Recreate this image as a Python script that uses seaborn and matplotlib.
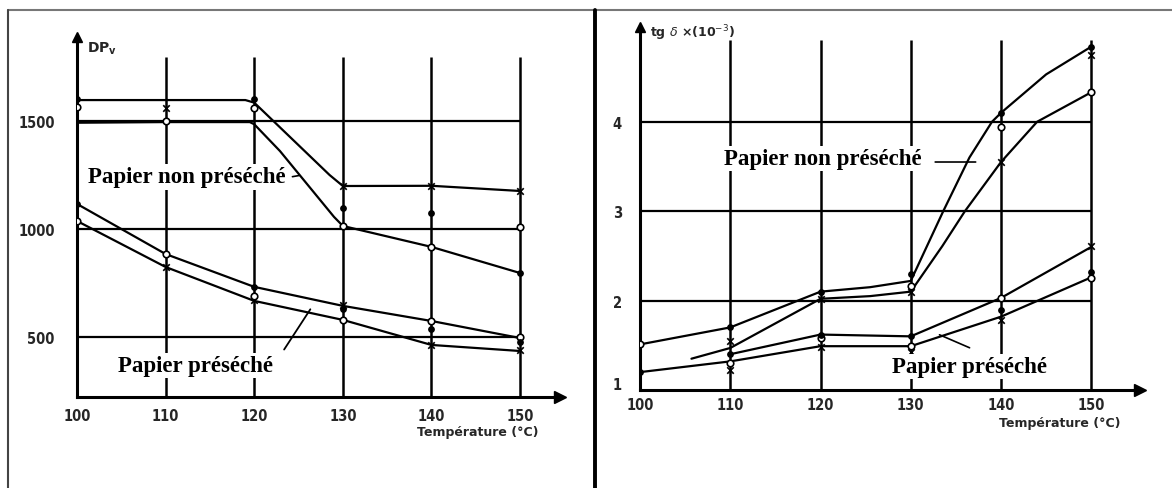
import matplotlib
matplotlib.use("Agg")
import matplotlib.pyplot as plt
from matplotlib.lines import Line2D
import pandas as pd
import seaborn as sns

sns.set_style("white")
plt.rcParams["font.family"] = ["DejaVu Sans"]

# %% data
temps = [100, 110, 120, 130, 140, 150]

# left panel: DPv
dp_yticks = [500, 1000, 1500]
dp_non_a_t = [100, 110, 119, 120, 128.5, 130, 140, 150]
dp_non_a = [1597, 1597, 1597, 1585, 1250, 1199, 1200, 1176]
dp_non_b_t = [100, 110, 119.5, 120, 122.9, 129, 130, 140, 150]
dp_non_b = [1492, 1495, 1495, 1485, 1361, 1056, 1014, 917, 796]
dp_pre_c = [1116, 884, 732, 644, 574, 495]
dp_pre_d = [1037, 824, 667, 579, 463, 435]

dp_x_t = [110, 130, 140, 150, 110, 120, 130, 140, 150]
dp_x_v = [1560, 1199, 1200, 1176, 824, 672, 650, 463, 440]
dp_o_t = [100, 110, 120, 130, 140, 150, 100, 110, 120, 130, 140, 150]
dp_o_v = [1565, 1500, 1560, 1014, 917, 1010, 1037, 884, 690, 579, 574, 500]
dp_f_t = [100, 120, 130, 140, 150, 100, 120, 130, 140, 150]
dp_f_v = [1600, 1600, 1097, 1074, 796, 1116, 732, 630, 537, 477]

# right panel: tg delta x 1e-3
tg_yticks = [1, 2, 3, 4]
tg_non_e_t = [100, 110, 120, 125.5, 130, 131.8, 133.6, 136.5, 139, 140, 145, 150]
tg_non_e = [1.51, 1.70, 2.10, 2.15, 2.22, 2.61, 3.0, 3.6, 4.0, 4.1, 4.53, 4.84]
tg_non_f_t = [105.7, 110, 120, 125.5, 130, 133.5, 136, 140, 144, 150]
tg_non_f = [1.35, 1.47, 2.02, 2.05, 2.10, 2.61, 3.0, 3.55, 4.0, 4.33]
tg_pre_g_t = [110, 120, 130, 140, 150]
tg_pre_g = [1.40, 1.62, 1.60, 2.03, 2.60]
tg_pre_h = [1.20, 1.32, 1.49, 1.49, 1.82, 2.26]

tg_x_t = [110, 120, 130, 140, 150, 110, 120, 130, 140, 150]
tg_x_v = [1.55, 2.02, 2.10, 3.55, 4.75, 1.22, 1.48, 1.42, 1.78, 2.61]
tg_o_t = [100, 130, 140, 150, 110, 120, 130, 140, 150]
tg_o_v = [1.51, 2.16, 3.94, 4.33, 1.30, 1.58, 1.49, 2.03, 2.25]
tg_f_t = [110, 120, 130, 140, 150, 110, 120, 130, 140, 150, 100]
tg_f_v = [1.70, 2.10, 2.30, 4.10, 4.84, 1.40, 1.62, 1.60, 1.89, 2.32, 1.20]

# %% figure
W, H = 1172, 489
fig = plt.figure(figsize=(W / 100, H / 100), dpi=100)
fig.patch.set_facecolor("white")

ax1 = fig.add_axes([77 / W, (H - 398) / H, 483 / W, 360 / H])
ax2 = fig.add_axes([640 / W, (H - 391) / H, 500 / W, 363 / H])

tick_font = dict(family=["DejaVu Sans"], weight="bold", size=10.5, stretch="condensed")
serif = dict(family=["Liberation Serif", "DejaVu Serif"], weight="bold", size=16.5,
             color="black")
LW = 1.6


def draw_axes(ax, xlim, ylim, yticks, grid_top, xpad, ypad):
    ax.set_xlim(*xlim)
    ax.set_ylim(*ylim)
    ax.set_facecolor("none")
    for s in ["top", "right"]:
        ax.spines[s].set_visible(False)
    for s in ["left", "bottom"]:
        ax.spines[s].set_color("black")
        ax.spines[s].set_linewidth(2.2)
    ax.set_xticks(temps)
    ax.set_xticklabels([str(t) for t in temps], fontdict=tick_font)
    ax.set_yticks(yticks)
    ax.set_yticklabels([str(v) for v in yticks], fontdict=tick_font)
    ax.tick_params(axis="x", length=0, pad=xpad)
    ax.tick_params(axis="y", length=0, pad=ypad)
    ax.grid(False)
    ax.vlines(temps[1:], ylim[0], grid_top, color="black", lw=1.8, zorder=1)
    ax.hlines([v for v in yticks if v > ylim[0] + 1e-6], temps[0], temps[-1],
              color="black", lw=1.6, zorder=1)
    ax.plot(1, 0, ">k", ms=9, transform=ax.transAxes, clip_on=False)
    ax.plot(0, 1, "^k", ms=7, transform=ax.transAxes, clip_on=False)
    ax.set_xlabel("")
    ax.set_ylabel("")


def curve(ax, x, y):
    sns.lineplot(x=x, y=y, ax=ax, color="black", lw=LW, sort=False,
                 estimator=None, zorder=3)


def marks(ax, xs, ys, xo, yo, xf, yf):
    sns.scatterplot(x=xs, y=ys, ax=ax, marker="x", color="black", s=22,
                    linewidth=1.2, zorder=4)
    sns.scatterplot(x=xo, y=yo, ax=ax, marker="o", facecolor="white",
                    edgecolor="black", s=22, linewidth=1.2, zorder=4)
    sns.scatterplot(x=xf, y=yf, ax=ax, marker="o", color="black", s=24,
                    linewidth=0, zorder=4)


# left panel
draw_axes(ax1, (100, 154.5), (222, 1889), dp_yticks, 1796, 8, 16)
curve(ax1, dp_non_a_t, dp_non_a)
curve(ax1, dp_non_b_t, dp_non_b)
curve(ax1, temps, dp_pre_c)
curve(ax1, temps, dp_pre_d)
marks(ax1, dp_x_t, dp_x_v, dp_o_t, dp_o_v, dp_f_t, dp_f_v)

box = dict(facecolor="white", edgecolor="none", pad=1.5)
ax1.text(101.2, 1241, "Papier non préséché", ha="left", va="center",
         bbox=box, zorder=5, **serif)
ax1.annotate("", xy=(125.4, 1250), xytext=(124.0, 1240),
             arrowprops=dict(arrowstyle="-", color="black", lw=1.2))
ax1.text(104.6, 366, "Papier préséché", ha="left", va="center",
         bbox=box, zorder=5, **serif)
ax1.annotate("", xy=(126.5, 639), xytext=(123.2, 431),
             arrowprops=dict(arrowstyle="-", color="black", lw=1.3))
ax1.text(0.02, 0.97, "DP$_\\mathbf{v}$", transform=ax1.transAxes, ha="left",
         va="center", fontsize=10, fontweight="bold")
ax1.text(0.83, -0.097, "Température (°C)", transform=ax1.transAxes,
         ha="center", va="center", fontsize=9, fontweight="bold")

# right panel
draw_axes(ax2, (100, 155.4), (1, 5.06), tg_yticks, 4.92, 5, 13)
ax2.set_yticklabels(["", "2", "3", "4"], fontdict=tick_font)
curve(ax2, tg_non_e_t, tg_non_e)
curve(ax2, tg_non_f_t, tg_non_f)
curve(ax2, tg_pre_g_t, tg_pre_g)
curve(ax2, temps, tg_pre_h)
marks(ax2, tg_x_t, tg_x_v, tg_o_t, tg_o_v, tg_f_t, tg_f_v)

ax2.text(109.3, 3.59, "Papier non préséché", ha="left", va="center",
         bbox=box, zorder=5, **serif)
ax2.annotate("", xy=(137.5, 3.55), xytext=(132.4, 3.55),
             arrowprops=dict(arrowstyle="-", color="black", lw=1.2))
ax2.text(127.9, 1.26, "Papier préséché", ha="left", va="center",
         bbox=box, zorder=5, **serif)
ax2.annotate("", xy=(136.8, 1.46), xytext=(132.9, 1.63),
             arrowprops=dict(arrowstyle="-", color="black", lw=1.2))
ax2.text(-0.045, 0.015, "1", transform=ax2.transAxes, ha="center",
         va="center", **tick_font)
ax2.text(0.02, 0.985, "tg $\\delta$ ×(10$^{-3}$)", transform=ax2.transAxes,
         ha="left", va="center", fontsize=9, fontweight="bold")
ax2.text(0.84, -0.09, "Température (°C)", transform=ax2.transAxes,
         ha="center", va="center", fontsize=9, fontweight="bold")

# frame of the scanned figure
fig.add_artist(Line2D([8 / W, 1], [1 - 11 / H, 1 - 11 / H], color="#777777", lw=1.5))
fig.add_artist(Line2D([8 / W, 8 / W], [0, 1 - 11 / H], color="#444444", lw=1.5))
fig.add_artist(Line2D([595 / W, 595 / W], [0, 1 - 11 / H], color="black", lw=2.8))

fig.savefig("out.png", dpi=100, facecolor="white")
